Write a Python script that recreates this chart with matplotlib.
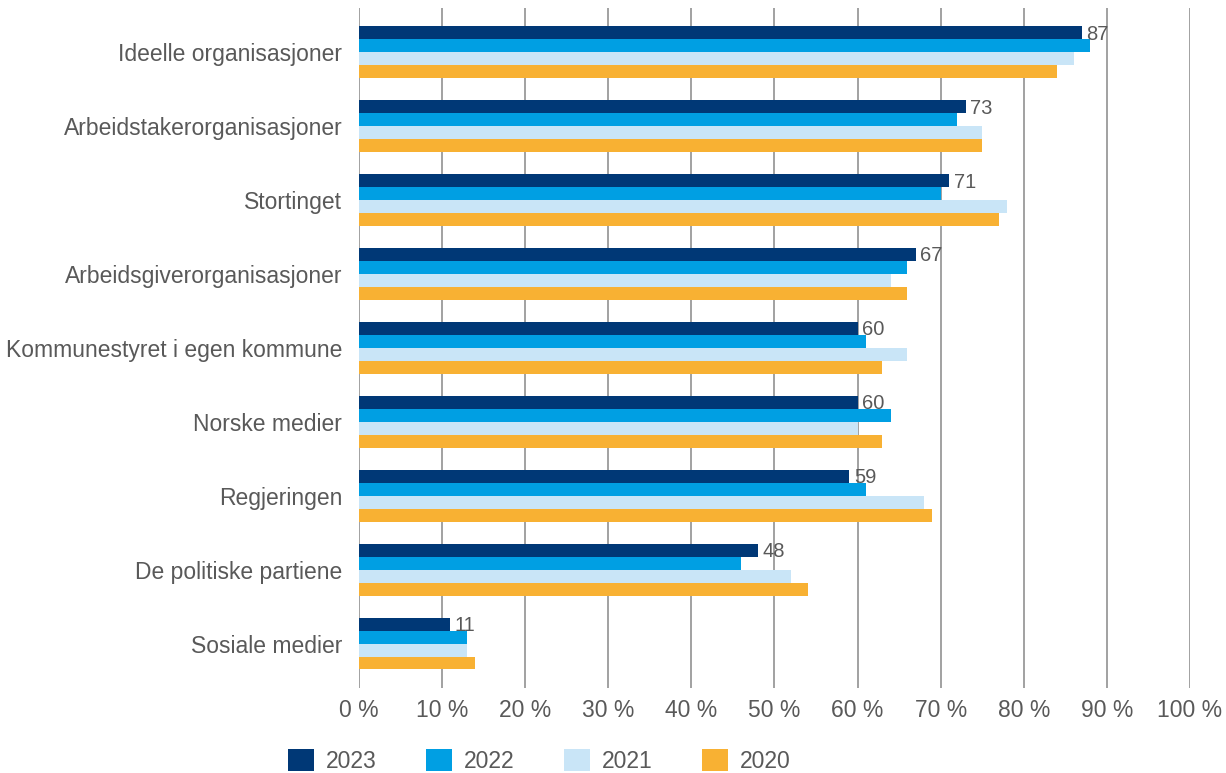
import numpy as np
import matplotlib.pyplot as plt
from matplotlib.patches import Patch

categories = ['Ideelle organisasjoner', 'Arbeidstakerorganisasjoner', 'Stortinget',
              'Arbeidsgiverorganisasjoner', 'Kommunestyret i egen kommune', 'Norske medier',
              'Regjeringen', 'De politiske partiene', 'Sosiale medier']
years = ['2023', '2022', '2021', '2020']
v2023 = [87, 73, 71, 67, 60, 60, 59, 48, 11]
v2022 = [88, 72, 70, 66, 61, 64, 61, 46, 13]
v2021 = [86, 75, 78, 64, 66, 60, 68, 52, 13]
v2020 = [84, 75, 77, 66, 63, 63, 69, 54, 14]
x_ticks = [0, 10, 20, 30, 40, 50, 60, 70, 80, 90, 100]

colors = ['#003876', '#009FE3', '#C9E5F7', '#F8B133']
text_color = '#595959'

plt.rcParams['font.family'] = ['Liberation Sans', 'DejaVu Sans']

fig = plt.figure(figsize=(12.26, 7.73), dpi=100)
ax = fig.add_axes([0.2928, 0.110, 0.9706 - 0.2928, 0.880])

series = [v2023, v2022, v2021, v2020]
y = np.arange(len(categories))
h = 0.175
for i, vals in enumerate(series):
    ax.barh(y - 1.5 * h + i * h, vals, height=h, color=colors[i], zorder=3)

# value labels for 2023
for yi, v in zip(y, v2023):
    ax.text(v + 0.55, yi - 1.5 * h + 0.02, str(v), va='center', ha='left',
            fontsize=14.5, color=text_color, zorder=4)

ax.set_xlim(0, 100)
ax.set_ylim(len(categories) - 1 + 0.6, -0.6)
ax.set_xticks(x_ticks)
ax.set_xticklabels([f'{t} %' for t in x_ticks])
ax.set_yticks(y)
ax.set_yticklabels(categories)
ax.tick_params(axis='both', length=0, labelsize=16.5, labelcolor=text_color)
ax.tick_params(axis='x', pad=8)
ax.tick_params(axis='y', pad=12)
ax.xaxis.grid(True, color='#9a9a9a', linewidth=1.3, zorder=0)
for s in ax.spines.values():
    s.set_visible(False)

handles = [Patch(facecolor=c, edgecolor='none') for c in colors]
fig.legend(handles, years, loc='center left', bbox_to_anchor=(288 / 1226, 0.016),
           ncol=4, frameon=False, fontsize=16.5, labelcolor=text_color,
           handlelength=1.14, handleheight=1.14, handletextpad=0.52,
           columnspacing=2.15, borderpad=0, borderaxespad=0)

fig.savefig('out.png', dpi=100)
